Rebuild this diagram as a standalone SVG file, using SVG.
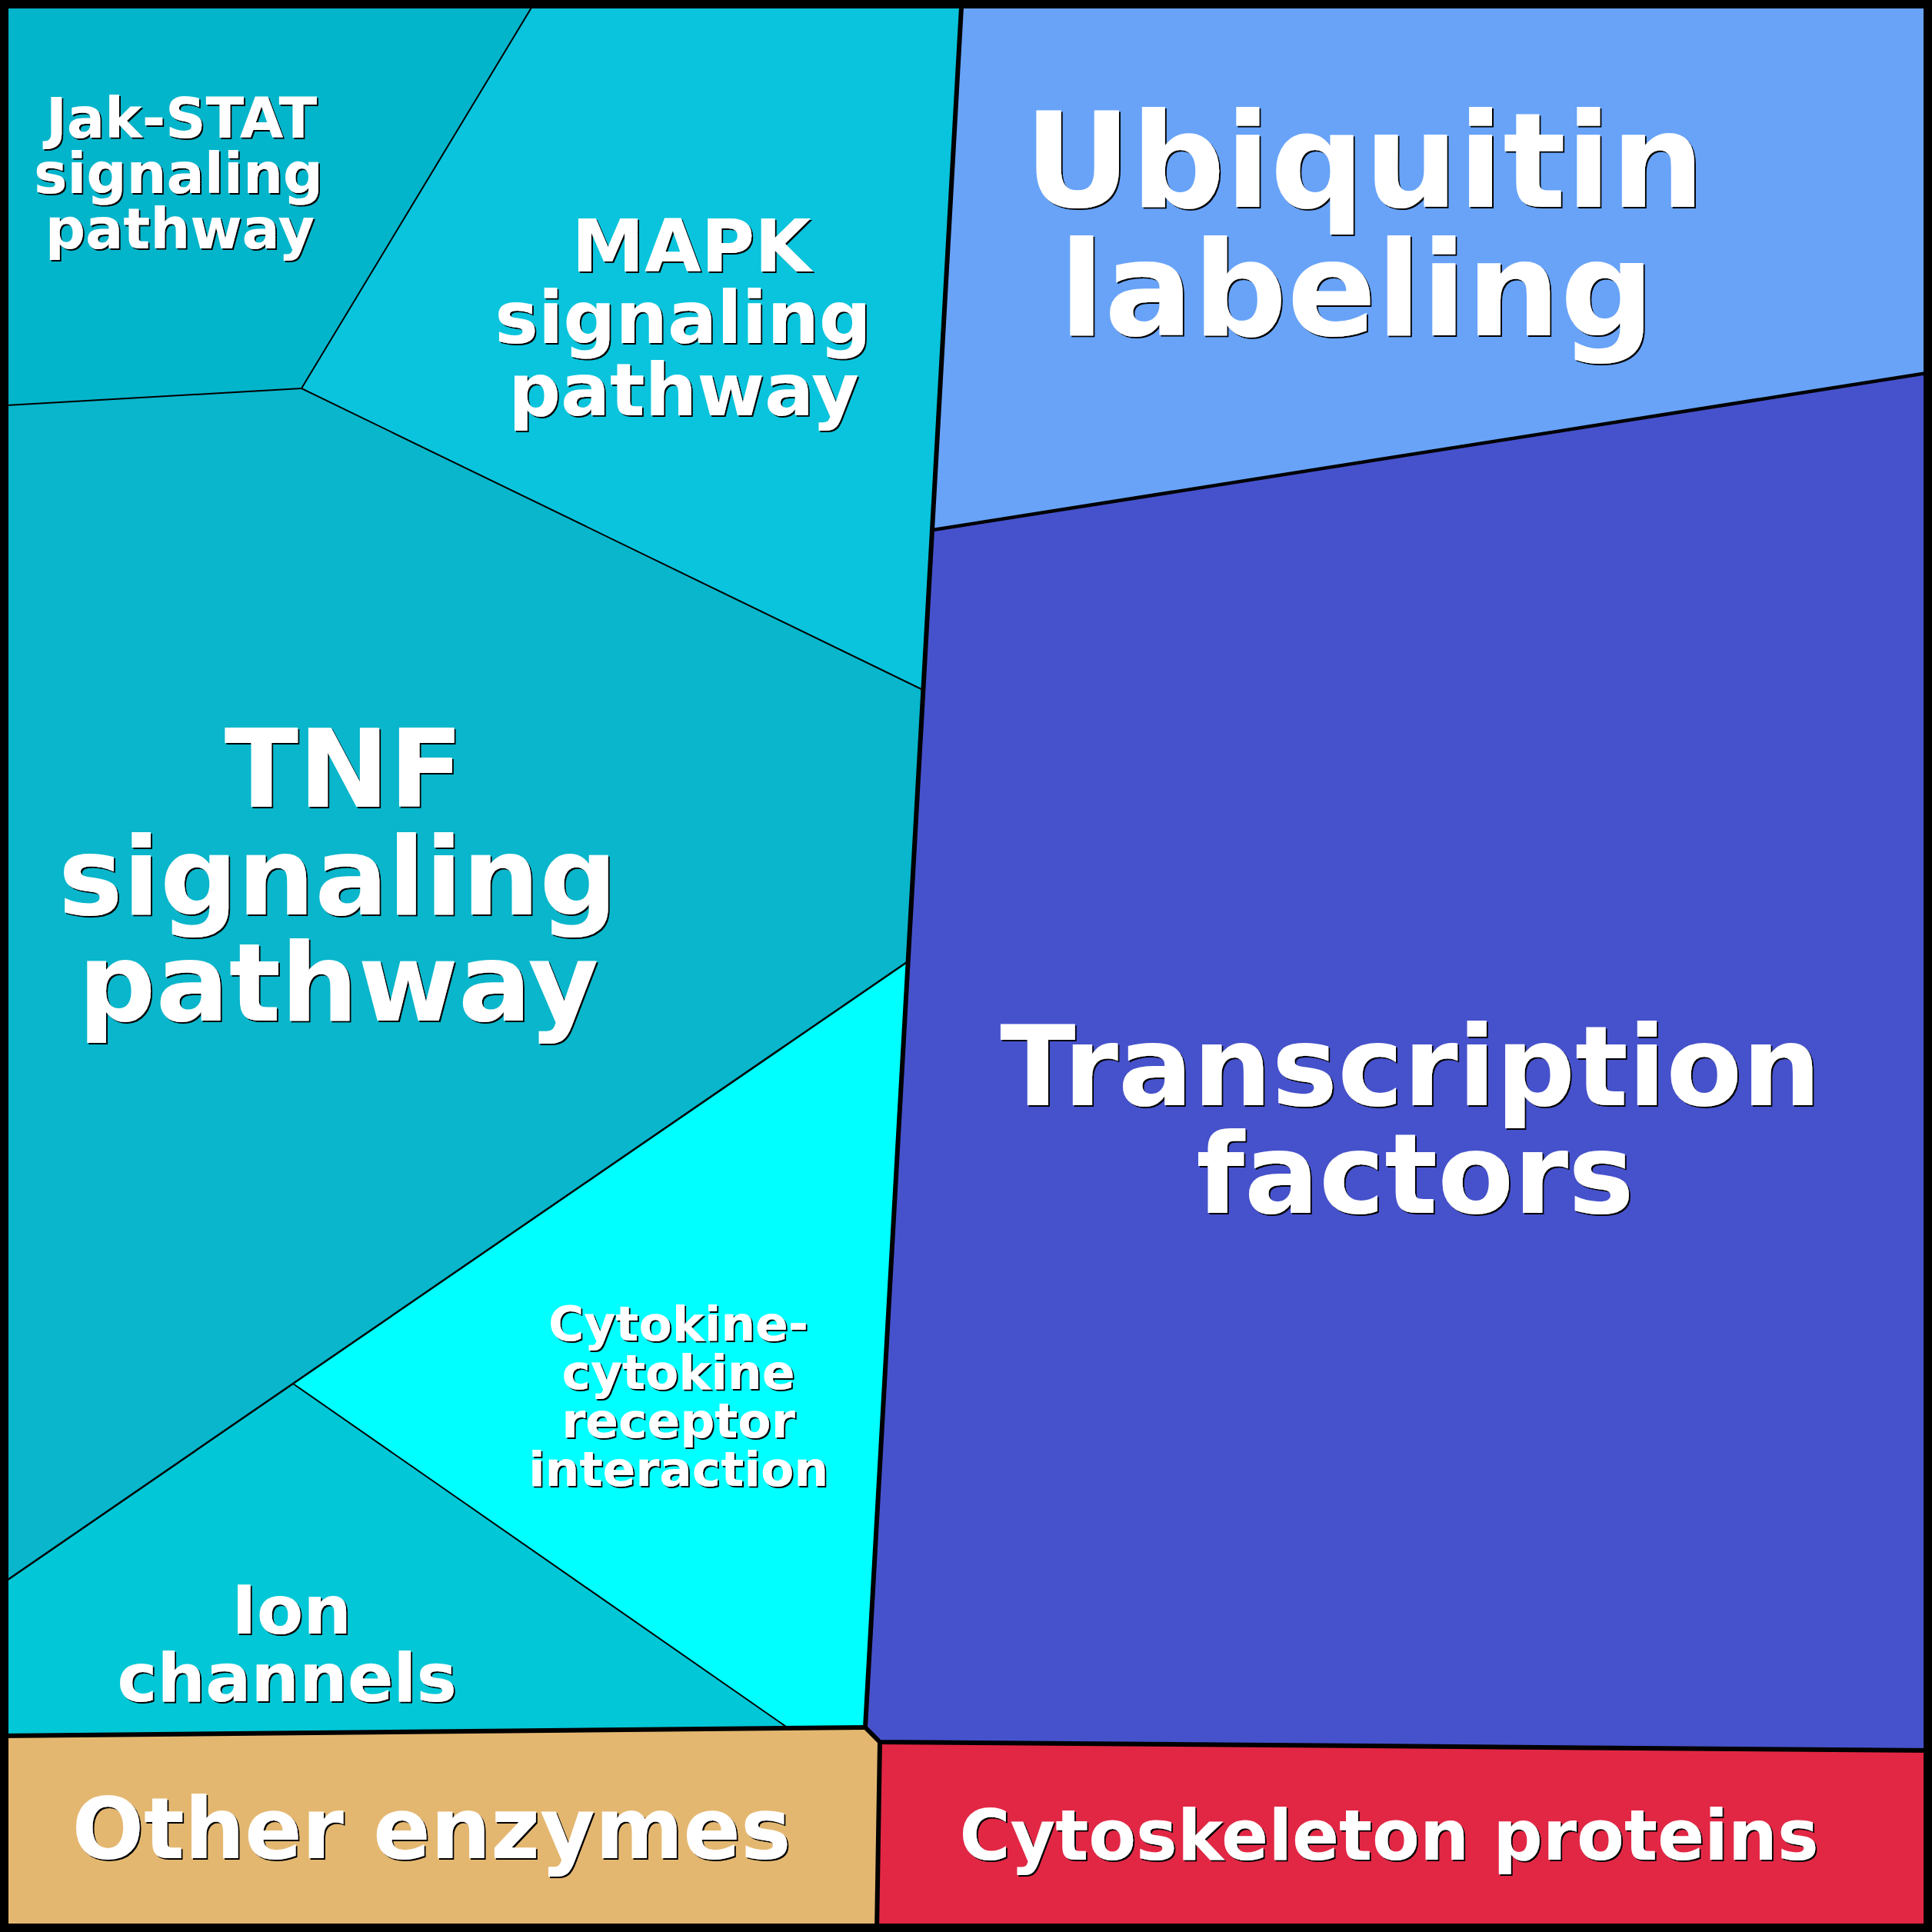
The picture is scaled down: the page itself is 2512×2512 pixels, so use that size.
<svg xmlns="http://www.w3.org/2000/svg" width="2512" height="2512" viewBox="0 0 2512 2512">
  <defs>
    <filter id="sh" x="-5%" y="-5%" width="110%" height="110%">
      <feDropShadow dx="2" dy="2" stdDeviation="0.6" flood-color="#000" flood-opacity="1"/>
    </filter>
    <style>
      .lbl { font-family: "DejaVu Sans", "Liberation Sans", sans-serif; font-weight: bold; fill: #fff; text-anchor: middle; filter: url(#sh); }
      .thin { stroke: #000; stroke-width: 2; fill: none; stroke-linejoin: round; }
      .mid { stroke: #000; stroke-width: 4.5; fill: none; }
      .thick { stroke: #000; stroke-width: 6; fill: none; stroke-linejoin: round; }
    </style>
  </defs>

  <g id="jak-stat">
    <polygon points="0,0 697,0 392,505 0,527.6" fill="#03B5CB"/>
    <text class="lbl" font-size="73" x="234"><tspan x="236" y="179">Jak-STAT</tspan><tspan x="232" y="251">signaling</tspan><tspan x="234" y="323">pathway</tspan></text>
  </g>
  <g id="mapk">
    <polygon points="697,0 1250.5,0 1200,897 392,505" fill="#09C4DC"/>
    <text class="lbl" font-size="95" x="890"><tspan x="899" y="353">MAPK</tspan><tspan x="888" y="446">signaling</tspan><tspan x="889" y="540">pathway</tspan></text>
  </g>
  <g id="tnf">
    <polygon points="0,527.6 392,505 1200,897 1180.6,1250 381,1799 0,2061" fill="#09B6CB"/>
    <text class="lbl" font-size="141" x="440"><tspan x="447" y="1049">TNF</tspan><tspan x="439" y="1189">signaling</tspan><tspan x="440" y="1327">pathway</tspan></text>
  </g>
  <g id="cytokine">
    <polygon points="1180.6,1250 1125,2246 1025,2247 381,1799" fill="#00FFFF"/>
    <text class="lbl" font-size="63" x="882"><tspan x="882" y="1743">Cytokine-</tspan><tspan x="882" y="1806">cytokine</tspan><tspan x="882" y="1869">receptor</tspan><tspan x="882" y="1932">interaction</tspan></text>
  </g>
  <g id="ion-channels">
    <polygon points="0,2061 381,1799 1025,2247 0,2257" fill="#02C7D7"/>
    <text class="lbl" font-size="88" x="373"><tspan x="379" y="2124">Ion</tspan><tspan x="373" y="2212">channels</tspan></text>
  </g>
  <g id="ubiquitin">
    <polygon points="1250.5,0 2512,0 2512,484 1213,689" fill="#68A3F8"/>
    <text class="lbl" font-size="171" x="1772"><tspan x="1774" y="269">Ubiquitin</tspan><tspan x="1764" y="436">labeling</tspan></text>
  </g>
  <g id="transcription">
    <polygon points="1213,689 2512,484 2512,2276 1144,2265 1125,2246" fill="#4652CB"/>
    <text class="lbl" font-size="144" x="1835"><tspan x="1834" y="1437">Transcription</tspan><tspan x="1840" y="1577">factors</tspan></text>
  </g>
  <g id="other-enzymes">
    <polygon points="0,2257 1125,2246 1144,2265 1140,2512 0,2512" fill="#E4B770"/>
    <text class="lbl" font-size="110" x="561" y="2416">Other enzymes</text>
  </g>
  <g id="cytoskeleton">
    <polygon points="1144,2265 2512,2276 2512,2512 1140,2512" fill="#E22745"/>
    <text class="lbl" font-size="90" x="1806" y="2418">Cytoskeleton proteins</text>
  </g>

  <g id="connectors">
    <line class="thin" x1="697" y1="0" x2="392" y2="505"/>
    <line class="thin" x1="0" y1="527.6" x2="392" y2="505"/>
    <line class="thin" x1="392" y1="505" x2="1200" y2="897"/>
    <polyline class="thin" points="1180.6,1250 381,1799 0,2061" style="stroke-width:2.5"/>
    <line class="thin" x1="381" y1="1799" x2="1025" y2="2247"/>
    <line class="mid" x1="1213" y1="689" x2="2512" y2="484"/>
    <polyline class="thick" points="1250.5,0 1125,2246 1144,2265 2512,2276"/>
    <line class="thick" x1="0" y1="2257" x2="1125" y2="2246"/>
    <line class="thick" x1="1144" y1="2265" x2="1140" y2="2512"/>
    <rect x="5.5" y="5.5" width="2501" height="2501" fill="none" stroke="#000" stroke-width="11"/>
  </g>
</svg>
